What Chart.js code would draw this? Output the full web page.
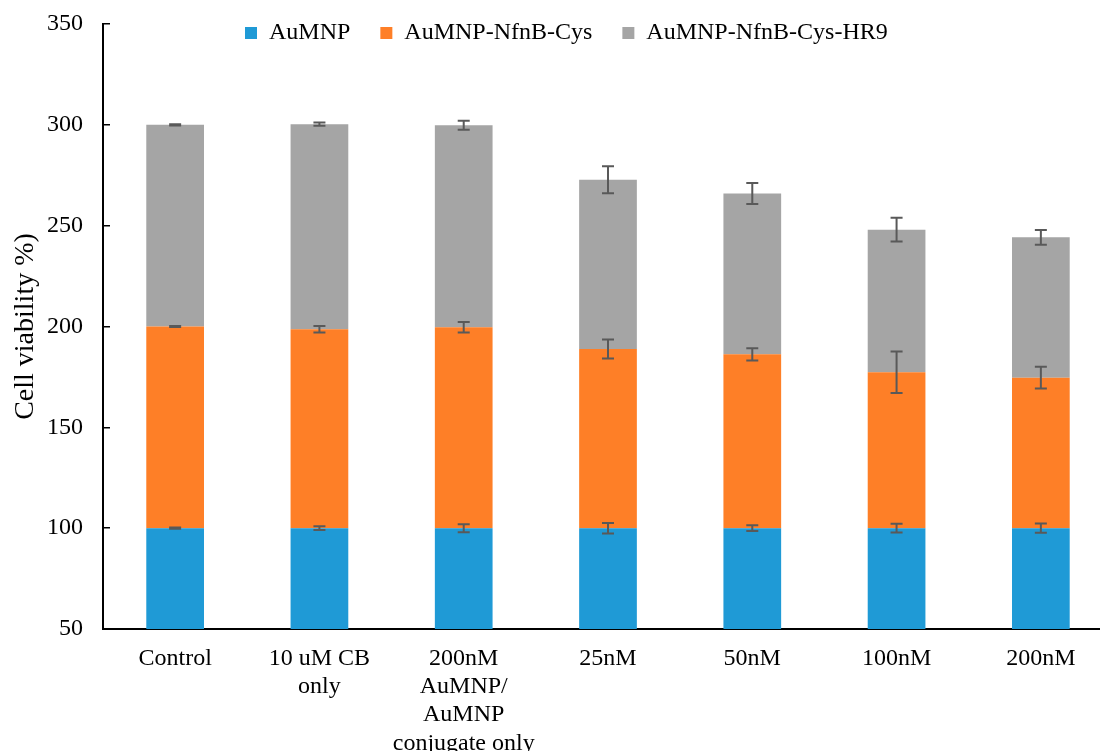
<!DOCTYPE html>
<html>
<head>
<meta charset="utf-8">
<script src="https://cdn.jsdelivr.net/npm/chart.js@4.4.1/dist/chart.umd.min.js"></script>
<style>
html, body { margin:0; padding:0; overflow:hidden; background:#fff; width:1100px; height:751px; }
#c { display:block; }
</style>
</head>
<body>
<canvas id="c" width="1114" height="751" style="width:1114px;height:751px"></canvas>
<script>
const categories = ["Control", ["10 uM CB", "only"], ["200nM", "AuMNP/", "AuMNP", "conjugate only"], "25nM", "50nM", "100nM", "200nM"];
const seriesNames = ["AuMNP", "AuMNP-NfnB-Cys", "AuMNP-NfnB-Cys-HR9"];
const auMNP = [100, 100, 100, 100, 100, 100, 100];
const nfnbCys = [100, 98.6, 99.6, 88.8, 86.2, 77.3, 74.6];
const nfnbCysHR9 = [100, 101.7, 100.2, 84, 79.8, 70.7, 69.6];
const auMNPErr = [0.3, 0.9, 2.0, 2.6, 1.4, 2.2, 2.3];
const nfnbCysErr = [0.3, 1.6, 2.6, 4.7, 3.0, 10.3, 5.4];
const nfnbCysHR9Err = [0.3, 0.8, 2.2, 6.7, 5.2, 5.9, 3.7];
const yTicks = [50, 100, 150, 200, 250, 300, 350];
const colors = ["#1F9AD6", "#FE7F27", "#A5A5A5"];

const errors = [auMNPErr, nfnbCysErr, nfnbCysHR9Err];
const FONT = "'Liberation Serif', 'Times New Roman', serif";

const errorBarPlugin = {
  id: 'errorBars',
  afterDatasetsDraw(chart) {
    const ctx = chart.ctx;
    const y = chart.scales.y;
    ctx.save();
    ctx.strokeStyle = '#595959';
    ctx.lineWidth = 2;
    chart.data.datasets.forEach((ds, di) => {
      const meta = chart.getDatasetMeta(di);
      meta.data.forEach((bar, j) => {
        let top = 0;
        for (let k = 0; k <= di; k++) top += chart.data.datasets[k].data[j];
        const e = errors[di][j];
        const yHi = y.getPixelForValue(top + e);
        const yLo = y.getPixelForValue(top - e);
        const x = bar.x;
        const cw = 6;
        ctx.beginPath();
        ctx.moveTo(x, yHi); ctx.lineTo(x, yLo);
        ctx.moveTo(x - cw, yHi); ctx.lineTo(x + cw, yHi);
        ctx.moveTo(x - cw, yLo); ctx.lineTo(x + cw, yLo);
        ctx.stroke();
      });
    });
    ctx.restore();
  }
};

// Legend sits inside the plot area: it takes no layout height and is placed at the top.
const legendInside = {
  id: 'legendInside',
  beforeLayout(chart) {
    const l = chart.legend;
    if (l && !l._zeroFit) {
      const origFit = l.fit;
      l.fit = function () { origFit.call(this); this.height = 0; };
      l._zeroFit = true;
    }
  },
  afterLayout(chart) {
    const l = chart.legend;
    if (!l) return;
    const pad = l.options.labels.padding;
    l.left = 245 - pad;
    l.right = chart.width;
    l.width = l.right - l.left;
    l.top = 21 - pad;
    l.bottom = l.top + 80;
    l.height = 80;
  }
};

new Chart(document.getElementById('c'), {
  type: 'bar',
  data: {
    labels: categories,
    datasets: [
      { label: seriesNames[0], data: auMNP, backgroundColor: colors[0] },
      { label: seriesNames[1], data: nfnbCys, backgroundColor: colors[1] },
      { label: seriesNames[2], data: nfnbCysHR9, backgroundColor: colors[2] }
    ]
  },
  options: {
    responsive: false,
    animation: false,
    devicePixelRatio: 1,
    datasets: { bar: { barPercentage: 0.4, categoryPercentage: 1.0 } },
    layout: { padding: { top: 24, right: 1, left: 0, bottom: 0 } },
    plugins: {
      legend: {
        position: 'top',
        align: 'start',
        labels: {
          font: { family: FONT, size: 24 },
          color: '#000',
          boxWidth: 12,
          boxHeight: 12,
          padding: 30
        }
      },
      tooltip: { enabled: false },
      title: { display: false }
    },
    scales: {
      x: {
        stacked: true,
        grid: { display: false, drawTicks: false },
        border: { display: true, color: '#000', width: 2 },
        ticks: { font: { family: FONT, size: 24, lineHeight: 1.17 }, color: '#000', padding: 16, maxRotation: 0, autoSkip: false },
        afterFit(scale) { scale.height = 122; scale.paddingLeft = 0; scale.paddingRight = 0; }
      },
      y: {
        stacked: true,
        min: 50,
        max: 350,
        afterBuildTicks(scale) { scale.ticks = yTicks.map(v => ({ value: v })); },
        grid: { display: true, drawOnChartArea: false, drawTicks: true, tickLength: -7, color: '#000', lineWidth: 1.5 },
        border: { display: true, color: '#000', width: 2 },
        ticks: { font: { family: FONT, size: 24 }, color: '#000', padding: 27 },
        title: { display: true, text: 'Cell viability %)', font: { family: FONT, size: 28 }, color: '#000', padding: { top: 9, bottom: 0 } },
        afterFit(scale) { scale.width = 103; scale.paddingTop = 0; scale.paddingBottom = 0; }
      }
    }
  },
  plugins: [errorBarPlugin, legendInside]
});
</script>
</body>
</html>
